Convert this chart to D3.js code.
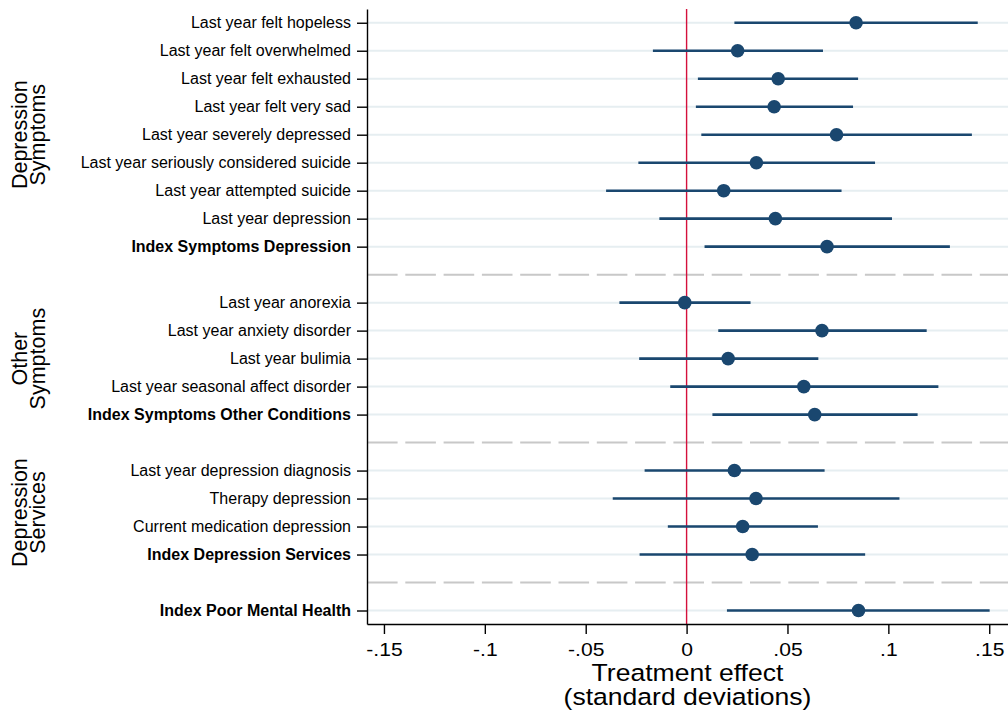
<!DOCTYPE html>
<html>
<head>
<meta charset="utf-8" />
<style>
body {
	margin:0;
	background:white;
}
svg text {
	font-family: "Liberation Sans", Arial, sans-serif;
	fill:black;
}
</style>
</head>
<body>
<svg id="plansza" width="1008" height="718" xmlns="http://www.w3.org/2000/svg"></svg>
<script src="https://cdn.jsdelivr.net/npm/d3@7"></script>
<script>

// rows from top to bottom, gaps between groups are left out
var labels = [
	"Last year felt hopeless",
	"Last year felt overwhelmed",
	"Last year felt exhausted",
	"Last year felt very sad",
	"Last year severely depressed",
	"Last year seriously considered suicide",
	"Last year attempted suicide",
	"Last year depression",
	"Index Symptoms Depression",
	"Last year anorexia",
	"Last year anxiety disorder",
	"Last year bulimia",
	"Last year seasonal affect disorder",
	"Index Symptoms Other Conditions",
	"Last year depression diagnosis",
	"Therapy depression",
	"Current medication depression",
	"Index Depression Services",
	"Index Poor Mental Health"
];
var isIndex = [0,0,0,0,0,0,0,0,1, 0,0,0,0,1, 0,0,0,1, 1];
var estimate = [0.0840, 0.0253, 0.0454, 0.0434, 0.0743, 0.0346, 0.0184, 0.0440, 0.0696,
	-0.0009, 0.0671, 0.0206, 0.0581, 0.0635,
	0.0237, 0.0344, 0.0278, 0.0325,
	0.0852];
var lower = [0.0237, -0.0167, 0.0056, 0.0046, 0.0073, -0.0239, -0.0399, -0.0135, 0.0089,
	-0.0333, 0.0157, -0.0235, -0.0081, 0.0128,
	-0.0208, -0.0366, -0.0093, -0.0233,
	0.0200];
var upper = [0.1443, 0.0676, 0.0850, 0.0825, 0.1414, 0.0934, 0.0768, 0.1018, 0.1305,
	0.0317, 0.1190, 0.0653, 0.1248, 0.1145,
	0.0684, 0.1055, 0.0651, 0.0885,
	0.1502];

var groupNames = [["Depression","Symptoms"], ["Other","Symptoms"], ["Depression","Services"], []];
var groupSizes = [9, 5, 4, 1];

var xTicks = [-0.15, -0.1, -0.05, 0, 0.05, 0.1, 0.15];
var xTickLabels = ["-.15", "-.1", "-.05", "0", ".05", ".1", ".15"];
var xTitle = ["Treatment effect", "(standard deviations)"];

var navy = "#1a476f";
var wide = "scale(1.14,1)";   // x axis texts are drawn a bit wider in the original

// row slot of every item, with one empty slot after each group
var slot = [], gaps = [], groupMid = [];
var s = 0;
groupSizes.forEach(function(n, g) {
	groupMid.push(s + (n-1)/2);
	for (var i = 0; i < n; i++) slot.push(s++);
	if (g < groupSizes.length-1) gaps.push(s++);
});
var nSlots = s;

var x = d3.scaleLinear().domain([-0.1584, 0.1593]).range([367, 1008]);
var y = d3.scaleLinear().domain([-0.491, nSlots - 1 + 0.482]).range([9, 624]);

var rys = d3.select("#plansza");

// light grid lines on each row
rys.append("g").selectAll("line")
	.data(slot)
	.enter().append("line")
	.attr("x1", x.range()[0]).attr("x2", x.range()[1])
	.attr("y1", function(d) { return y(d); })
	.attr("y2", function(d) { return y(d); })
	.attr("stroke", "#e6eef1")
	.attr("stroke-width", 2);

// dashed separators between groups
rys.append("g").selectAll("line")
	.data(gaps)
	.enter().append("line")
	.attr("x1", x.range()[0]).attr("x2", x.range()[1])
	.attr("y1", function(d) { return y(d); })
	.attr("y2", function(d) { return y(d); })
	.attr("stroke", "#c8c8c8")
	.attr("stroke-width", 2)
	.attr("stroke-dasharray", "30.6,7.7");

// zero line
rys.append("line")
	.attr("x1", x(0)).attr("x2", x(0))
	.attr("y1", y.range()[0]).attr("y2", y.range()[1])
	.attr("stroke", "#d4103c")
	.attr("stroke-width", 1.4);

// confidence intervals
rys.append("g").selectAll("line")
	.data(labels)
	.enter().append("line")
	.attr("x1", function(d, i) { return x(lower[i]); })
	.attr("x2", function(d, i) { return x(upper[i]); })
	.attr("y1", function(d, i) { return y(slot[i]); })
	.attr("y2", function(d, i) { return y(slot[i]); })
	.attr("stroke", navy)
	.attr("stroke-width", 2.6);

rys.append("g").selectAll("circle")
	.data(labels)
	.enter().append("circle")
	.attr("cx", function(d, i) { return x(estimate[i]); })
	.attr("cy", function(d, i) { return y(slot[i]); })
	.attr("r", 6.8)
	.attr("fill", navy);

// axes
var yAxis = d3.axisLeft(y)
	.tickValues(slot)
	.tickFormat(function(d, i) { return labels[i]; })
	.tickSize(10)
	.tickSizeOuter(0)
	.tickPadding(6);

var gy = rys.append("g")
	.attr("transform", "translate(" + x.range()[0] + ",0)")
	.call(yAxis);
gy.selectAll("text")
	.attr("font-size", 16)
	.attr("font-weight", function(d, i) { return isIndex[i] ? "bold" : "normal"; });

var xAxis = d3.axisBottom(x)
	.tickValues(xTicks)
	.tickFormat(function(d, i) { return xTickLabels[i]; })
	.tickSize(10)
	.tickSizeOuter(0)
	.tickPadding(9);

var gx = rys.append("g")
	.attr("transform", "translate(0," + y.range()[1] + ")")
	.call(xAxis);
gx.selectAll("text")
	.attr("font-size", 18.5)
	.attr("transform", wide);

[gx, gy].forEach(function(g) {
	g.attr("font-family", null).attr("font-size", null);
	g.selectAll("path,line").attr("stroke", "black").attr("stroke-width", 1.4);
});

// x title
rys.append("g")
	.attr("transform", "translate(" + ((x.range()[0] + x.range()[1]) / 2) + ",0)")
	.append("text")
	.attr("transform", wide)
	.attr("text-anchor", "middle")
	.attr("font-size", 23.3)
	.selectAll("tspan")
	.data(xTitle)
	.enter().append("tspan")
	.attr("x", 0)
	.attr("y", function(d, i) { return 681.3 + i*24; })
	.text(function(d) { return d; });

// group names, rotated
groupNames.forEach(function(lines, g) {
	if (!lines.length) return;
	rys.append("text")
		.attr("transform", "translate(26.5," + y(groupMid[g]) + ") rotate(-90)")
		.attr("text-anchor", "middle")
		.attr("font-size", 21.5)
		.selectAll("tspan")
		.data(lines)
		.enter().append("tspan")
		.attr("x", 0)
		.attr("y", function(d, i) { return i*18.5; })
		.text(function(d) { return d; });
});

</script>
</body>
</html>
